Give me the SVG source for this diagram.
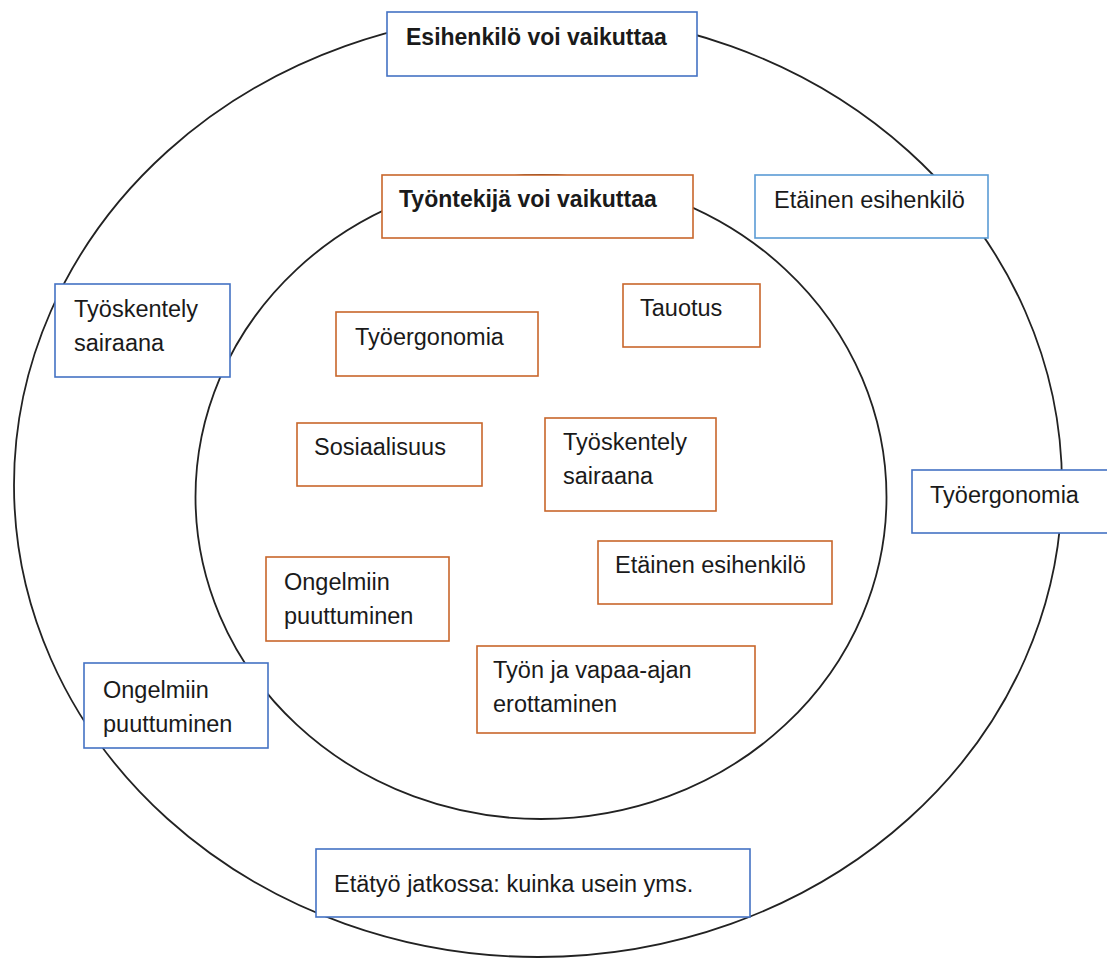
<svg xmlns="http://www.w3.org/2000/svg" width="1107" height="959" viewBox="0 0 1107 959">
<style>
.ring{fill:none;stroke:#222;stroke-width:1.8}
.b{fill:#fff;stroke:#4472C4;stroke-width:1.6}
.b2{fill:#fff;stroke:#5B9BD5;stroke-width:1.6}
.o{fill:#fff;stroke:#C8662B;stroke-width:1.6}
text{font-family:"Liberation Sans",Arial,sans-serif;font-size:23.5px;fill:#1a1a1a}
.t{font-weight:bold;font-size:23px}
</style>
<rect width="1107" height="959" fill="#fff"/>
<g id="connectors">
<ellipse class="ring" cx="538" cy="485" rx="524" ry="472"/>
<ellipse class="ring" cx="541" cy="497" rx="345.5" ry="322"/>
</g>
<g id="n-esihenkilo"><rect class="b" x="387" y="12" width="310" height="64"/><text class="t" x="406" y="45">Esihenkilö voi vaikuttaa</text></g>
<g id="n-tyontekija"><rect class="o" x="382" y="175" width="311" height="63"/><text class="t" x="399" y="207">Työntekijä voi vaikuttaa</text></g>
<g id="n-o-etainen"><rect class="b2" x="755" y="175" width="233" height="63"/><text x="774" y="208">Etäinen esihenkilö</text></g>
<g id="n-o-tyoskentely"><rect class="b" x="55" y="284" width="175" height="93"/><text x="74" y="317">Työskentely</text><text x="74" y="351">sairaana</text></g>
<g id="n-o-tyoergonomia"><rect class="b" x="912" y="470" width="200" height="63"/><text x="930" y="503">Työergonomia</text></g>
<g id="n-o-ongelmiin"><rect class="b" x="84" y="663" width="184" height="85"/><text x="103" y="698">Ongelmiin</text><text x="103" y="732">puuttuminen</text></g>
<g id="n-o-etatyo"><rect class="b" x="316" y="849" width="434" height="68"/><text x="334" y="892">Etätyö jatkossa: kuinka usein yms.</text></g>
<g id="n-i-tyoergonomia"><rect class="o" x="336" y="312" width="202" height="64"/><text x="355" y="345">Työergonomia</text></g>
<g id="n-i-tauotus"><rect class="o" x="623" y="284" width="137" height="63"/><text x="640" y="316">Tauotus</text></g>
<g id="n-i-sosiaalisuus"><rect class="o" x="297" y="423" width="185" height="63"/><text x="314" y="455">Sosiaalisuus</text></g>
<g id="n-i-tyoskentely"><rect class="o" x="545" y="418" width="171" height="93"/><text x="563" y="450">Työskentely</text><text x="563" y="484">sairaana</text></g>
<g id="n-i-ongelmiin"><rect class="o" x="266" y="557" width="183" height="84"/><text x="284" y="590">Ongelmiin</text><text x="284" y="624">puuttuminen</text></g>
<g id="n-i-etainen"><rect class="o" x="598" y="541" width="234" height="63"/><text x="615" y="573">Etäinen esihenkilö</text></g>
<g id="n-i-tyon"><rect class="o" x="477" y="646" width="278" height="87"/><text x="493" y="678">Työn ja vapaa-ajan</text><text x="493" y="712">erottaminen</text></g>
</svg>
